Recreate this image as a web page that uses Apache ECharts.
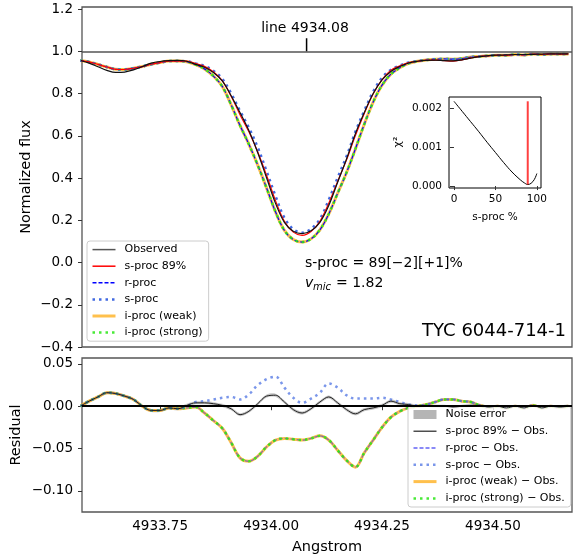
<!DOCTYPE html>
<html>
<head>
<meta charset="utf-8">
<script src="https://cdn.jsdelivr.net/npm/echarts@6/dist/echarts.min.js"></script>
<style>
  html, body { margin: 0; padding: 0; background: #fff; }
  #chart { width: 582px; height: 557px; }
</style>
</head>
<body>
<div id="chart"></div>
<script>
// wavelength grid (Angstrom)
const wave = [
  4933.57, 4933.59, 4933.61, 4933.63, 4933.65, 4933.67, 4933.69, 4933.71, 4933.73, 4933.75,
  4933.77, 4933.79, 4933.81, 4933.83, 4933.85, 4933.87, 4933.89, 4933.91, 4933.93, 4933.95,
  4933.97, 4933.99, 4934.01, 4934.03, 4934.05, 4934.07, 4934.09, 4934.11, 4934.13, 4934.15,
  4934.17, 4934.19, 4934.21, 4934.23, 4934.25, 4934.27, 4934.29, 4934.31, 4934.33, 4934.35,
  4934.37, 4934.39, 4934.41, 4934.43, 4934.45, 4934.47, 4934.49, 4934.51, 4934.53, 4934.55,
  4934.57, 4934.59, 4934.61, 4934.63, 4934.65, 4934.67
];
// observed normalized flux
const obsFlux = [
  0.957, 0.944, 0.927, 0.910, 0.900, 0.902, 0.912, 0.928, 0.944, 0.952,
  0.956, 0.957, 0.953, 0.938, 0.925, 0.900, 0.860, 0.790, 0.710, 0.625,
  0.520, 0.400, 0.280, 0.190, 0.148, 0.137, 0.150, 0.190, 0.270, 0.380,
  0.490, 0.610, 0.710, 0.800, 0.865, 0.905, 0.928, 0.945, 0.953, 0.957,
  0.958, 0.956, 0.955, 0.960, 0.968, 0.975, 0.980, 0.982, 0.983, 0.985,
  0.985, 0.986, 0.987, 0.988, 0.988, 0.988
];
// residuals (model - observed)
const resRproc = [
  0.000, 0.006, 0.011, 0.016, 0.015, 0.012, 0.008, 0.000, -0.005, -0.005,
  -0.002, -0.003, -0.002, -0.001, -0.008, -0.017, -0.026, -0.043, -0.061, -0.065,
  -0.059, -0.048, -0.040, -0.038, -0.039, -0.040, -0.038, -0.035, -0.040, -0.052,
  -0.064, -0.072, -0.055, -0.040, -0.025, -0.013, -0.006, -0.002, 0.000, 0.002,
  0.005, 0.008, 0.008, 0.006, 0.005, 0.001, -0.001, 0.000, -0.002, 0.000,
  -0.002, 0.001, -0.002, 0.000, -0.001, 0.000
];
const resIweak = resRproc.slice();
const resIstrong = resRproc.slice();
const resSproc = [
  0.000, 0.006, 0.011, 0.016, 0.015, 0.012, 0.008, 0.000, -0.005, -0.005,
  -0.002, -0.003, 0.000, 0.005, 0.006, 0.008, 0.010, 0.011, 0.008, 0.014,
  0.025, 0.032, 0.035, 0.022, 0.010, 0.004, 0.009, 0.016, 0.027, 0.022,
  0.013, 0.009, 0.009, 0.009, 0.010, 0.008, 0.005, 0.002, 0.001, 0.002,
  0.005, 0.008, 0.008, 0.006, 0.005, 0.001, -0.001, 0.000, -0.002, 0.000,
  -0.002, 0.001, -0.002, 0.000, -0.001, 0.000
];
const resS89 = [
  0.000, 0.006, 0.011, 0.016, 0.015, 0.012, 0.008, 0.000, -0.005, -0.005,
  -0.002, -0.003, 0.001, 0.004, 0.004, 0.003, 0.001, -0.003, -0.010, -0.006,
  0.003, 0.012, 0.013, 0.005, -0.004, -0.008, -0.003, 0.005, 0.011, 0.004,
  -0.004, -0.009, -0.004, -0.002, 0.001, 0.006, 0.003, 0.002, 0.000, 0.001,
  0.000, 0.000, -0.001, 0.000, 0.001, 0.001, -0.001, 0.000, -0.002, 0.000,
  -0.002, 0.001, -0.002, 0.000, -0.001, 0.000
];
const noiseErr = 0.0018;

// chi^2 inset
const chiPct = [0, 10, 20, 30, 40, 50, 60, 70, 80, 85, 89, 93, 97, 100];
const chiVal = [0.00217, 0.00191, 0.00165, 0.00139, 0.00112, 0.00086, 0.00060, 0.00036, 0.00016, 0.00008, 0.00004, 0.00007, 0.00017, 0.00032];
const bestPct = 89;

const lineWl = 4934.08;
const xTicks = [4933.75, 4934.00, 4934.25, 4934.50];
const fluxTicks = [-0.4, -0.2, 0.0, 0.2, 0.4, 0.6, 0.8, 1.0, 1.2];
const resTicks = [-0.10, -0.05, 0.00, 0.05];
const chiTicks = [0, 0.001, 0.002];
const pctTicks = [0, 50, 100];

const FONT = "DejaVu Sans";
const minus = (s) => s.replace("-", "\u2212");
const pts = (ys) => wave.map((w, i) => [w, ys[i]]);
const model = (res) => wave.map((w, i) => [w, +(obsFlux[i] + res[i]).toFixed(4)]);

const tickStyle = { show: true, inside: false, length: 4, lineStyle: { color: "#333", width: 1 } };

function valueAxis(grid, min, max, ticks, fmt, size, margin, extra) {
  return Object.assign({
    type: "value", gridIndex: grid, min: min, max: max,
    axisLine: { show: false },
    splitLine: { show: false },
    axisTick: Object.assign({ customValues: ticks }, tickStyle),
    axisLabel: { customValues: ticks, formatter: fmt, color: "#000", fontFamily: FONT, fontSize: size, margin: margin },
  }, extra || {});
}

function curve(name, data, xi, color, width, type, z) {
  return {
    name: name, type: "line", xAxisIndex: xi, yAxisIndex: xi, data: data,
    symbol: "none", smooth: 0.35, z: z,
    lineStyle: { color: color, width: width, type: type },
    itemStyle: { color: color },
  };
}

// legend entry with the line width of its series
const entry = (name, width, color) => ({ name: name, lineStyle: color ? { width: width, color: color } : { width: width } });

const legendBase = {
  orient: "vertical", itemWidth: 23, itemHeight: 14, padding: [3, 6, 3, 4],
  borderColor: "#ccc", borderWidth: 1, borderRadius: 3, selectedMode: false,
  itemStyle: { opacity: 0 },
  textStyle: { fontFamily: FONT, fontSize: 11, color: "#000", padding: [0, 0, 0, 4] },
};

const chart = echarts.init(document.getElementById("chart"));

chart.setOption({
  animation: false,
  grid: [
    { left: 82, top: 7, width: 490, height: 340, show: true, borderColor: "#555", borderWidth: 1.3 },
    { left: 82, top: 358, width: 490, height: 154, show: true, borderColor: "#555", borderWidth: 1.3 },
    { left: 449, top: 97, width: 92, height: 91, show: true, borderColor: "#000", borderWidth: 1, backgroundColor: "#fff", z: 5 },
  ],
  xAxis: [
    { type: "value", gridIndex: 0, min: 4933.574, max: 4934.678, axisLine: { show: false }, axisTick: { show: false }, axisLabel: { show: false }, splitLine: { show: false } },
    valueAxis(1, 4933.574, 4934.678, xTicks, (v) => v.toFixed(2), 13.5, 7, {}),
    valueAxis(2, -6, 105, pctTicks, (v) => String(v), 10.5, 6, { z: 6 }),
  ],
  yAxis: [
    valueAxis(0, -0.4, 1.21, fluxTicks, (v) => minus(v.toFixed(1)), 13.5, 9),
    valueAxis(1, -0.125, 0.057, resTicks, (v) => minus(v.toFixed(2)), 13.5, 9),
    valueAxis(2, -0.00005, 0.00228, chiTicks, (v) => v.toFixed(3), 10.5, 7, { z: 6 }),
  ],
  legend: [
    Object.assign({}, legendBase, {
      data: [
        entry("Observed", 1.5, "#555"), entry("s-proc 89%", 1.5), entry("r-proc", 1.5),
        entry("s-proc", 2.5), entry("i-proc (weak)", 3), entry("i-proc (strong)", 2.5),
      ],
      left: 87, top: 241, itemGap: 5.4, backgroundColor: "#fff",
    }),
    Object.assign({}, legendBase, {
      data: [
        { name: "Noise error", icon: "path://M0,0H23V9H0Z", itemStyle: { color: "rgba(150,150,150,0.7)", opacity: 1 } },
        entry("s-proc 89% \u2212 Obs.", 1.2), entry("r-proc \u2212 Obs.", 1.8), entry("s-proc \u2212 Obs.", 2.5),
        entry("i-proc (weak) \u2212 Obs.", 3), entry("i-proc (strong) \u2212 Obs.", 2.5),
      ],
      left: 408, top: 406, itemGap: 5.6, backgroundColor: "rgba(255,255,255,0.8)",
    }),
  ],
  series: [
    // top panel
    curve("i-proc (weak)", model(resIweak), 0, "rgba(255,165,0,0.7)", 3, "solid", 2),
    curve("r-proc", model(resRproc), 0, "#0000ff", 1.2, [4, 2], 3),
    curve("i-proc (strong)", model(resIstrong), 0, "rgba(40,230,20,0.85)", 2.5, [2.5, 4], 3),
    curve("s-proc", model(resSproc), 0, "#4169e1", 2.5, [2.5, 4], 3),
    curve("s-proc 89%", model(resS89), 0, "#ff0000", 1.2, "solid", 4),
    Object.assign(curve("Observed", pts(obsFlux), 0, "#111", 1.2, "solid", 5), {
      markLine: {
        silent: true, symbol: "none", label: { show: false },
        lineStyle: { color: "#555", width: 1.6, type: "solid" },
        data: [{ yAxis: 1.0 }],
      },
    }),
    {
      name: "line marker", type: "line", xAxisIndex: 0, yAxisIndex: 0,
      data: [[lineWl, 1.0], [lineWl, 1.062]], symbol: "none", z: 5,
      lineStyle: { color: "#000", width: 1.5 },
    },
    // residual panel
    {
      name: "Noise error", type: "custom", xAxisIndex: 1, yAxisIndex: 1, clip: true, z: 1,
      data: pts(resS89),
      itemStyle: { color: "rgba(150,150,150,0.7)" },
      renderItem: function (params, api) {
        if (params.dataIndex !== 0) return;
        const up = [], lo = [];
        for (let i = 0; i < wave.length; i++) {
          up.push(api.coord([wave[i], resS89[i] + noiseErr]));
          lo.push(api.coord([wave[i], resS89[i] - noiseErr]));
        }
        return {
          type: "polygon",
          shape: { points: up.concat(lo.reverse()), smooth: 0.3 },
          style: { fill: "rgba(150,150,150,0.55)" },
        };
      },
    },
    curve("i-proc (weak) \u2212 Obs.", pts(resIweak), 1, "rgba(255,165,0,0.7)", 3, "solid", 2),
    curve("r-proc \u2212 Obs.", pts(resRproc), 1, "rgba(40,40,240,0.55)", 1.3, [4, 2], 3),
    curve("i-proc (strong) \u2212 Obs.", pts(resIstrong), 1, "rgba(40,230,20,0.85)", 2.5, [2.5, 4], 3),
    curve("s-proc \u2212 Obs.", pts(resSproc), 1, "rgba(65,105,225,0.7)", 2.5, [2.5, 4], 3),
    Object.assign(curve("s-proc 89% \u2212 Obs.", pts(resS89), 1, "#222", 1, "solid", 4), {
      markLine: {
        silent: true, symbol: "none", label: { show: false },
        lineStyle: { color: "#000", width: 2, type: "solid" },
        data: [{ yAxis: 0 }],
      },
    }),
    // chi^2 inset
    {
      name: "chi2", type: "line", xAxisIndex: 2, yAxisIndex: 2, z: 7,
      data: chiPct.map((p, i) => [p, chiVal[i]]), symbol: "none", smooth: 0.4,
      lineStyle: { color: "#000", width: 1 },
    },
    {
      name: "best", type: "line", xAxisIndex: 2, yAxisIndex: 2, z: 7,
      data: [[bestPct, chiVal[chiPct.indexOf(bestPct)]], [bestPct, Math.max.apply(null, chiVal)]],
      symbol: "none", lineStyle: { color: "rgba(255,0,0,0.75)", width: 2 },
    },
  ],
  graphic: [
    { type: "text", x: 305, y: 28, style: { text: "line " + lineWl.toFixed(2), font: "14px " + FONT, fill: "#000", textAlign: "center", textVerticalAlign: "middle" } },
    { type: "text", x: 26, y: 177, rotation: Math.PI / 2, style: { text: "Normalized flux", font: "14.5px " + FONT, fill: "#000", textAlign: "center", textVerticalAlign: "middle" } },
    { type: "text", x: 16, y: 435, rotation: Math.PI / 2, style: { text: "Residual", font: "14.5px " + FONT, fill: "#000", textAlign: "center", textVerticalAlign: "middle" } },
    { type: "text", x: 327, y: 547, style: { text: "Angstrom", font: "14.5px " + FONT, fill: "#000", textAlign: "center", textVerticalAlign: "middle" } },
    { type: "text", x: 305, y: 263, style: { text: "s-proc = 89[\u22122][+1]%", font: "14px " + FONT, fill: "#000", textAlign: "left", textVerticalAlign: "middle" } },
    { type: "text", x: 305, y: 283, style: { text: "v", font: "italic 14px " + FONT, fill: "#000", textAlign: "left", textVerticalAlign: "middle" } },
    { type: "text", x: 313, y: 287, style: { text: "mic", font: "italic 10px " + FONT, fill: "#000", textAlign: "left", textVerticalAlign: "middle" } },
    { type: "text", x: 336, y: 283, style: { text: "= 1.82", font: "14px " + FONT, fill: "#000", textAlign: "left", textVerticalAlign: "middle" } },
    { type: "text", x: 566, y: 331, style: { text: "TYC 6044-714-1", font: "18px " + FONT, fill: "#000", textAlign: "right", textVerticalAlign: "middle" } },
    { type: "text", x: 398, y: 142, rotation: Math.PI / 2, z: 10, style: { text: "\u03c7\u00b2", font: "11px " + FONT, fill: "#000", textAlign: "center", textVerticalAlign: "middle" } },
    { type: "text", x: 495, y: 217, z: 10, style: { text: "s-proc %", font: "10.5px " + FONT, fill: "#000", textAlign: "center", textVerticalAlign: "middle" } },
  ],
});
</script>
</body>
</html>
